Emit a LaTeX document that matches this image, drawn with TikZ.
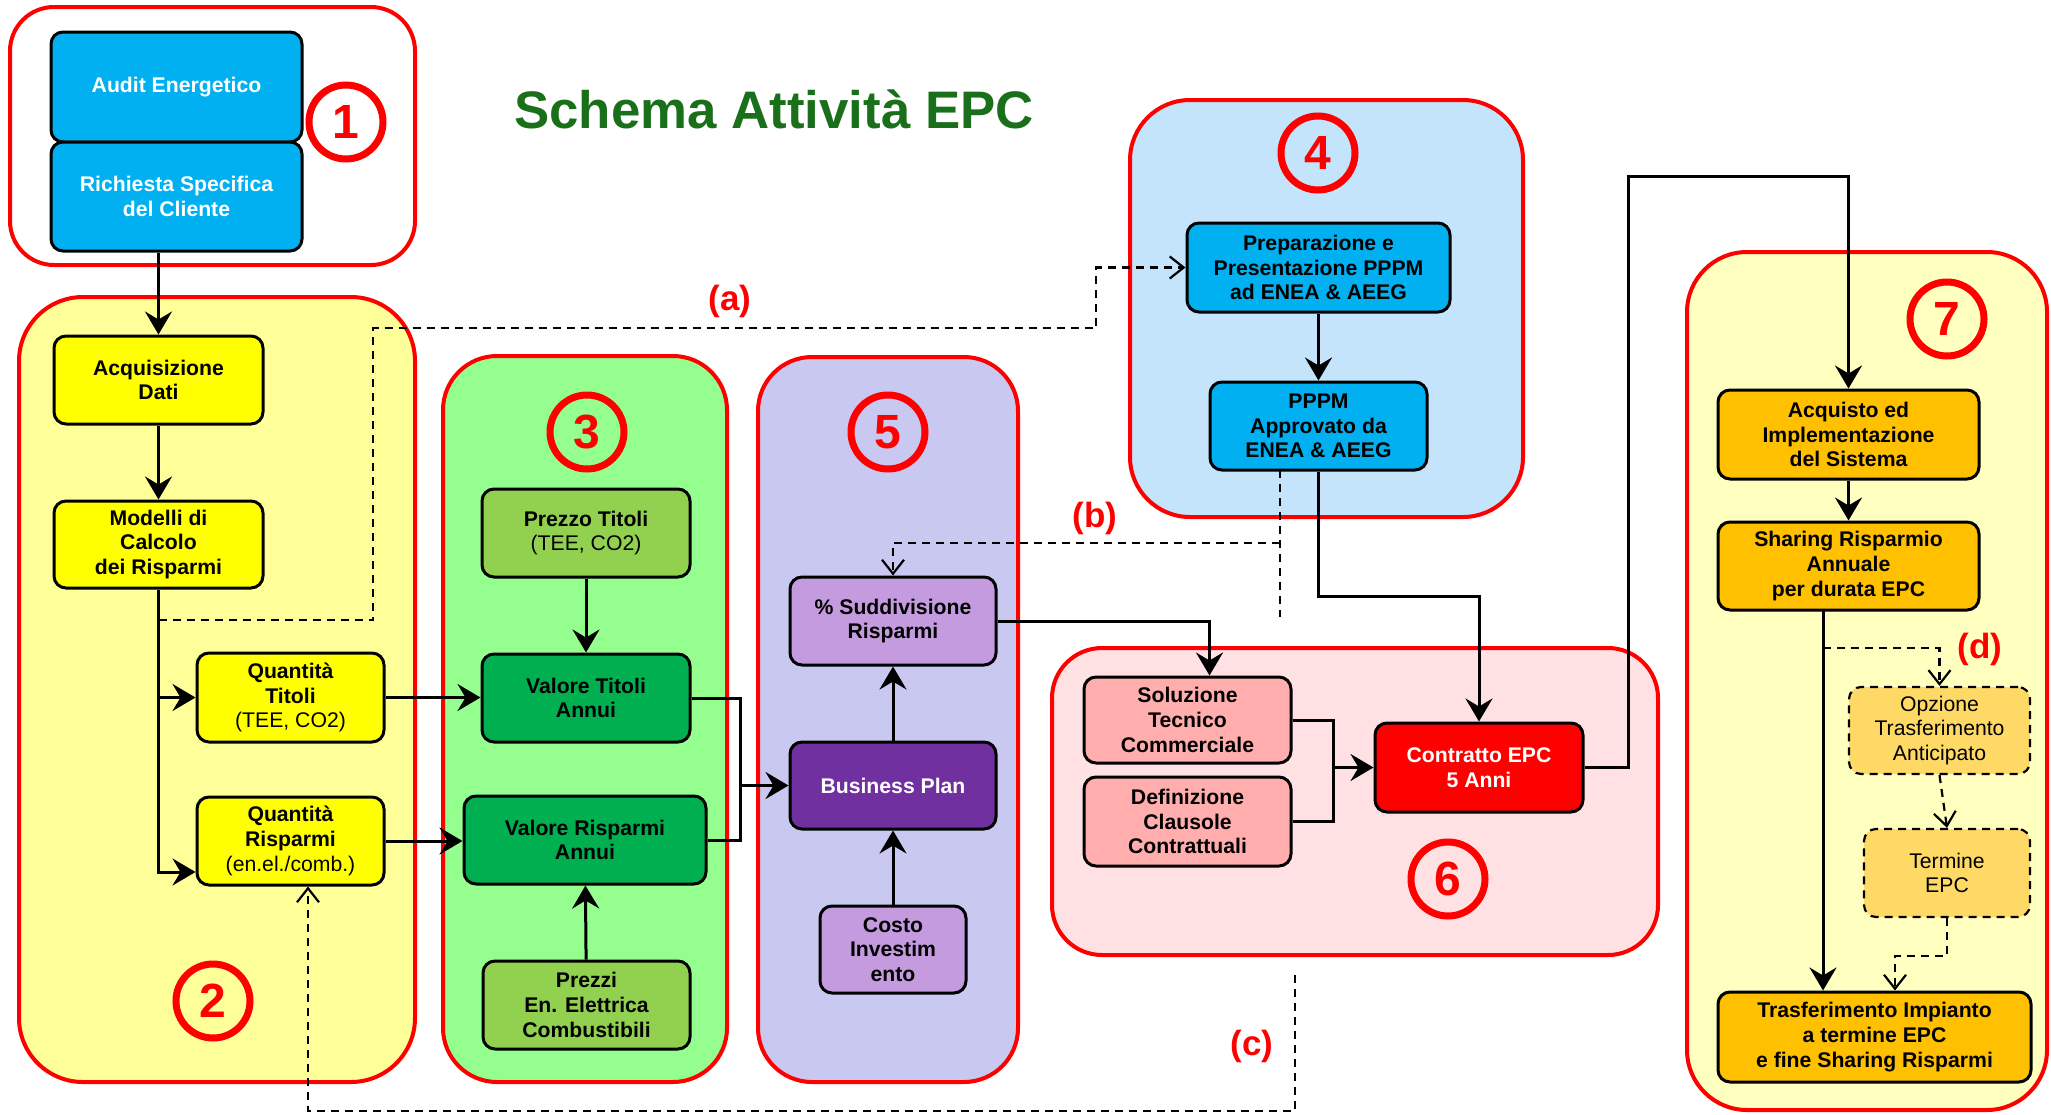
\documentclass[tikz,border=0pt]{standalone}
\usepackage{fontspec}
\setmainfont{Liberation Sans}
\usetikzlibrary{arrows.meta}
\definecolor{cyanbox}{HTML}{00B0F0}
\definecolor{ybox}{HTML}{FFFF00}
\definecolor{g2fill}{HTML}{FFFF99}
\definecolor{g3fill}{HTML}{94FF8F}
\definecolor{lgreen}{HTML}{92D050}
\definecolor{dgreen}{HTML}{00B050}
\definecolor{g5fill}{HTML}{C8C8F0}
\definecolor{lilac}{HTML}{C49BDF}
\definecolor{purp}{HTML}{7030A0}
\definecolor{g4fill}{HTML}{C3E4FB}
\definecolor{g6fill}{HTML}{FFE1E4}
\definecolor{pinkbox}{HTML}{FFADAD}
\definecolor{g7fill}{HTML}{FFFFC0}
\definecolor{orangebox}{HTML}{FFC000}
\definecolor{lorange}{HTML}{FFD966}
\definecolor{titlegreen}{RGB}{26,112,26}
\begin{document}
\begin{tikzpicture}[x=0.5pt,y=-0.5pt,
  grp/.style={draw=red, line width=2pt, rounded corners=#1},
  box/.style={draw=black, line width=1.5pt, rounded corners=6pt, align=center, inner sep=0pt,
    font=\bfseries\fontsize{10.6}{12.3}\selectfont, text=black},
  dbox/.style={box, line width=1.1pt, dash pattern=on 4pt off 3pt, font=\mdseries\fontsize{10.6}{12.3}\selectfont},
  numc/.style={circle, draw=red, line width=3.5pt, minimum size=37pt, inner sep=0pt, text=red,
    font=\bfseries\fontsize{24}{24}\selectfont},
  lab/.style={text=red, font=\bfseries\fontsize{17.5}{20}\selectfont},
  con/.style={line width=1.5pt},
  arr/.style={con, -{Stealth[length=11.5pt,width=13.5pt,inset=4pt]}},
  dline/.style={line width=1.1pt, dash pattern=on 4pt off 3pt},
  darr/.style={dline, -{Straight Barb[length=7pt,width=11pt]}}]
\useasboundingbox (0,0) rectangle (2051,1114);

% groups
\draw[grp=22pt] (10,7) rectangle (415,265);
\draw[grp=32pt, fill=g2fill] (19,297) rectangle (415,1082);
\draw[grp=27pt, fill=g3fill] (443,356) rectangle (727,1082);
\draw[grp=27pt, fill=g5fill] (758,357) rectangle (1018,1082);
\draw[grp=30pt, fill=g4fill] (1130,100) rectangle (1523,517);
\draw[grp=25pt, fill=g6fill] (1052,648) rectangle (1658,955);
\draw[grp=30pt, fill=g7fill] (1687,252) rectangle (2047,1110);

% title
\node[anchor=base, text=titlegreen, font=\bfseries\fontsize{26.4}{30}\selectfont] (title) at (774,128) {Schema Attività EPC};

% number circles
\node[numc] (n1) at (346,122) {1};
\node[numc] (n2) at (213,1001) {2};
\node[numc] (n3) at (587,432) {3};
\node[numc] (n5) at (888,432) {5};
\node[numc] (n4) at (1318,153) {4};
\node[numc] (n6) at (1448,879) {6};
\node[numc] (n7) at (1947,319) {7};

% labels
\node[lab] (la) at (730,301) {(a)};
\node[lab] (lb) at (1095,518) {(b)};
\node[lab] (lc) at (1252,1046) {(c)};
\node[lab] (ld) at (1980,649) {(d)};

% boxes
\node[box, fill=cyanbox, text=white, minimum width=125.5pt, minimum height=55pt] (audit) at (176.5,87) {Audit Energetico};
\node[box, fill=cyanbox, text=white, minimum width=125.5pt, minimum height=54.5pt] (rich) at (176.5,196.5) {Richiesta Specifica\\del Cliente};
\node[box, fill=ybox, minimum width=104.5pt, minimum height=44pt] (acq) at (158.5,380) {Acquisizione\\Dati};
\node[box, fill=ybox, minimum width=104.5pt, minimum height=43.5pt] (mod) at (158.5,544.5) {Modelli di\\Calcolo\\dei Risparmi};
\node[box, fill=ybox, minimum width=93.5pt, minimum height=44.5pt] (qtit) at (290.5,697.5) {Quantità\\Titoli\\{\mdseries (TEE, CO2)}};
\node[box, fill=ybox, minimum width=93.5pt, minimum height=44pt] (qris) at (290.5,841) {Quantità\\Risparmi\\{\mdseries (en.el./comb.)}};
\node[box, fill=lgreen, minimum width=104pt, minimum height=44pt] (prt) at (586,533) {Prezzo Titoli\\{\mdseries (TEE, CO2)}};
\node[box, fill=dgreen, minimum width=104pt, minimum height=44pt] (valt) at (586,698) {Valore Titoli\\Annui};
\node[box, fill=dgreen, minimum width=121pt, minimum height=44pt] (valr) at (585,840) {Valore Risparmi\\Annui};
\node[box, fill=lgreen, minimum width=103.5pt, minimum height=44pt] (prezzi) at (586.5,1005) {Prezzi\\En. Elettrica\\Combustibili};
\node[box, fill=lilac, minimum width=103pt, minimum height=44pt] (sudd) at (893,621) {\% Suddivisione\\Risparmi};
\node[box, fill=purp, text=white, minimum width=103pt, minimum height=43.5pt] (bp) at (893,785.5) {Business Plan};
\node[box, fill=lilac, minimum width=73pt, minimum height=43.5pt] (costo) at (893,949.5) {Costo\\Investim\\ento};
\node[box, fill=cyanbox, minimum width=131.5pt, minimum height=44.5pt] (prep) at (1318.5,267.5) {Preparazione e\\Presentazione PPPM\\ad ENEA \& AEEG};
\node[box, fill=cyanbox, minimum width=108.5pt, minimum height=44pt] (pppm) at (1318.5,426) {PPPM\\Approvato da\\ENEA \& AEEG};
\node[box, fill=pinkbox, minimum width=103.5pt, minimum height=43pt] (sol) at (1187.5,720) {Soluzione\\Tecnico\\Commerciale};
\node[box, fill=pinkbox, minimum width=103.5pt, minimum height=44.5pt] (def) at (1187.5,821.5) {Definizione\\Clausole\\Contrattuali};
\node[box, fill=red, text=white, minimum width=104pt, minimum height=44.5pt] (contr) at (1479,767.5) {Contratto EPC\\5 Anni};
\node[box, fill=orangebox, minimum width=130.5pt, minimum height=44.5pt] (acqu) at (1848.5,434.5) {Acquisto ed\\Implementazione\\del Sistema};
\node[box, fill=orangebox, minimum width=130.5pt, minimum height=44pt] (shar) at (1848.5,566) {Sharing Risparmio\\Annuale\\per durata EPC};
\node[dbox, fill=lorange, minimum width=90.5pt, minimum height=43.5pt] (opz) at (1939.5,730.5) {Opzione\\Trasferimento\\Anticipato};
\node[dbox, fill=lorange, minimum width=83pt, minimum height=44pt] (term) at (1947,873) {Termine\\EPC};
\node[box, fill=orangebox, minimum width=156.5pt, minimum height=45pt] (trasf) at (1874.5,1037) {Trasferimento Impianto\\a termine EPC\\e fine Sharing Risparmi};

% helper coordinates
\coordinate (j1) at (740,785.5);
\coordinate (j2) at (1333,767.5);
\coordinate (p1) at (1318.5,596);
\coordinate (e1) at (1628,176);
\coordinate (s1) at (1823,610);
\coordinate (d1) at (1823,648);
\coordinate (d2) at (1895,956);
\coordinate (a0) at (158.5,620);
\coordinate (a1) at (373,620);
\coordinate (a2) at (373,328);
\coordinate (a3) at (1096,328);
\coordinate (b0) at (1280,470);
\coordinate (b1) at (1280,617);
\coordinate (b2) at (1280,543);
\coordinate (c0) at (1295,975);
\coordinate (c1) at (308,1111);

% solid connectors
\draw[arr] (rich.south -| acq.north) -- (acq.north);
\draw[arr] (acq) -- (mod);
\draw[arr] (mod.south) |- ([yshift=-15.5pt]qris.west);
\draw[arr] (mod.south |- qtit.west) -- (qtit.west);
\draw[arr] (qtit.east) -- (qtit.east -| valt.west);
\draw[arr] (qris.east) -- (qris.east -| valr.west);
\draw[arr] (prt) -- (valt);
\draw[arr] (prezzi) -- (valr);
\draw[con] (valt.east) -| (j1);
\draw[con] (valr.east) -| (j1);
\draw[arr] (j1) -- (bp.west);
\draw[arr] (costo) -- (bp);
\draw[arr] (bp) -- (sudd);
\draw[arr] (sudd.east) -| ([xshift=11pt]sol.north);
\draw[con] (sol.east) -| (j2);
\draw[con] (def.east) -| (j2);
\draw[arr] (j2) -- (contr.west);
\draw[arr] (prep) -- (pppm);
\draw[arr] (pppm.south) -- (p1) -| (contr.north);
\draw[arr] (contr.east) -| (e1) -| (acqu.north);
\draw[arr] (acqu) -- (shar);
\draw[arr] (s1) -- (s1 |- trasf.north);

% dashed connectors
\draw[darr] (a0) -- (a1) -- (a2) -- (a3) |- (prep.west);
\draw[dline] (b0) -- (b1);
\draw[darr] (b2) -| (sudd.north);
\draw[darr] (c0) |- (c1) -- (c1 |- qris.south);
\draw[darr] (d1) -| (opz.north);
\draw[darr] (opz.south) -- (term.north);
\draw[darr] (term.south) |- (d2) -- (d2 |- trasf.north);
\end{tikzpicture}
\end{document}
